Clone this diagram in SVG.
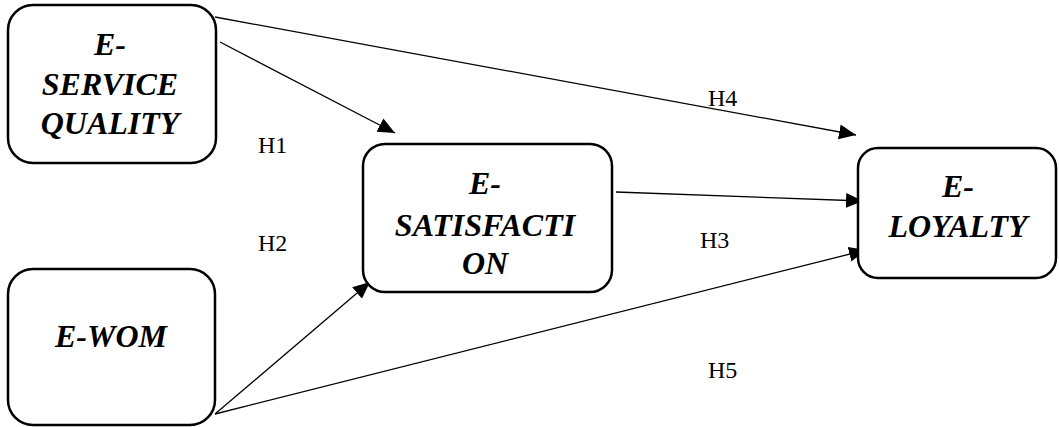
<svg xmlns="http://www.w3.org/2000/svg" width="1059" height="427" viewBox="0 0 1059 427">
  <style>
    .box { fill: #fff; stroke: #000; stroke-width: 2.5; }
    .node { font-family: "Liberation Serif", "Times New Roman", serif; font-weight: bold; font-style: italic; font-size: 32px; fill: #000; text-anchor: middle; }
    .lbl { font-family: "Liberation Serif", "Times New Roman", serif; font-size: 24px; fill: #000; }
    .edge { stroke: #000; stroke-width: 1.3; fill: none; marker-end: url(#arrow); }
  </style>
  <defs>
    <marker id="arrow" viewBox="0 0 10 10" refX="10" refY="5" markerWidth="17" markerHeight="17" markerUnits="userSpaceOnUse" orient="auto">
      <path d="M0,0.6 L10,5 L0,9.4 z" fill="#000"/>
    </marker>
  </defs>
  <rect width="1059" height="427" fill="#fff"/>

  <g id="connectors">
    <line class="edge" x1="220" y1="42" x2="395" y2="133"/>
    <line class="edge" x1="215" y1="17" x2="856" y2="135"/>
    <line class="edge" x1="616" y1="192" x2="863" y2="201"/>
    <line class="edge" x1="215" y1="414" x2="370" y2="282"/>
    <line class="edge" x1="215" y1="414" x2="866" y2="250"/>
  </g>

  <g id="node-eservice">
    <rect class="box" x="8" y="5" width="208" height="158" rx="25"/>
    <text class="node" x="110" y="55">E-</text>
    <text class="node" x="110" y="95">SERVICE</text>
    <text class="node" x="110" y="134">QUALITY</text>
  </g>

  <g id="node-ewom">
    <rect class="box" x="8" y="269" width="207" height="156" rx="25"/>
    <text class="node" x="111" y="347">E-WOM</text>
  </g>

  <g id="node-esatisfaction">
    <rect class="box" x="363" y="144" width="249" height="148" rx="22"/>
    <text class="node" x="485" y="194">E-</text>
    <text class="node" x="485" y="236">SATISFACTI</text>
    <text class="node" x="485" y="274">ON</text>
  </g>

  <g id="node-eloyalty">
    <rect class="box" x="858" y="148" width="198" height="130" rx="20"/>
    <text class="node" x="958" y="197">E-</text>
    <text class="node" x="958" y="237">LOYALTY</text>
  </g>

  <g id="labels">
    <text class="lbl" x="258" y="153">H1</text>
    <text class="lbl" x="258" y="251">H2</text>
    <text class="lbl" x="700" y="248">H3</text>
    <text class="lbl" x="708" y="106">H4</text>
    <text class="lbl" x="708" y="378">H5</text>
  </g>
</svg>
